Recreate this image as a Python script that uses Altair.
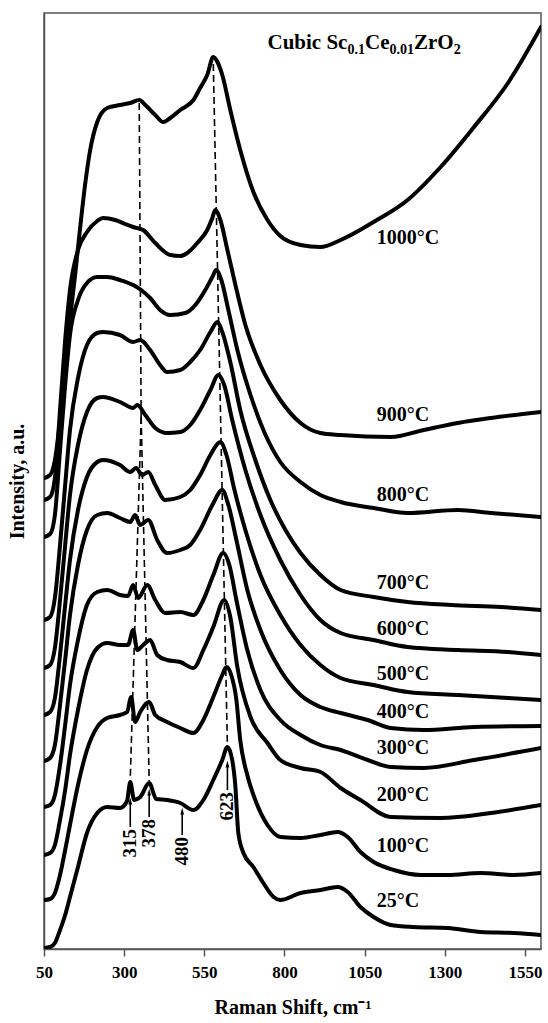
import altair as alt
import pandas as pd

# ---------------- data ----------------
temps = ["25", "100", "200", "300", "400", "500", "600", "700", "800", "900", "1000"]

shift_25 = [50, 69, 84, 100, 116, 131, 156, 184, 216, 247, 287, 309, 319, 331, 350, 378, 400, 434, 475, 516, 547, 578, 606, 622, 637, 647, 656, 672, 703, 734, 766, 787, 850, 912, 966, 997, 1037, 1078, 1131, 1203, 1309, 1412, 1516, 1600]
int_25 = [1, 2, 6, 19, 34, 52, 82, 116, 136, 142, 141, 148, 167, 149, 152, 166, 150, 149, 146, 139, 149, 169, 189, 202, 189, 162, 116, 96, 82, 66, 52, 49, 56, 59, 62, 57, 42, 32, 24, 22, 21, 17, 16, 14]

shift_100 = [50, 69, 84, 100, 116, 131, 156, 184, 216, 247, 287, 309, 322, 334, 350, 378, 397, 434, 475, 516, 547, 578, 606, 619, 634, 650, 662, 684, 709, 747, 787, 850, 912, 966, 997, 1037, 1078, 1141, 1225, 1309, 1412, 1516, 1600]
int_100 = [49, 50, 56, 74, 99, 124, 164, 199, 222, 231, 234, 237, 252, 227, 237, 247, 234, 227, 221, 216, 229, 252, 274, 282, 274, 249, 209, 174, 149, 124, 112, 111, 114, 117, 112, 97, 87, 79, 74, 74, 76, 74, 76]

shift_200 = [50, 69, 84, 100, 116, 131, 156, 184, 216, 247, 287, 312, 328, 341, 359, 381, 403, 434, 475, 516, 547, 578, 612, 631, 653, 694, 747, 787, 850, 912, 975, 1037, 1131, 1287, 1444, 1600]
int_200 = [94, 96, 104, 129, 159, 194, 239, 279, 301, 306, 304, 304, 319, 299, 304, 309, 294, 289, 287, 281, 299, 322, 349, 332, 282, 232, 206, 189, 181, 177, 161, 149, 132, 131, 136, 144]

shift_300 = [50, 69, 84, 100, 116, 131, 156, 184, 216, 247, 287, 312, 328, 344, 372, 397, 428, 475, 516, 547, 578, 609, 628, 650, 684, 725, 787, 850, 912, 975, 1059, 1131, 1234, 1391, 1600]
int_300 = [142, 144, 154, 184, 224, 264, 309, 344, 357, 359, 354, 353, 364, 351, 364, 349, 336, 337, 334, 349, 374, 396, 384, 349, 299, 259, 229, 214, 204, 199, 189, 182, 181, 189, 201]

shift_400 = [50, 69, 84, 100, 116, 131, 156, 184, 216, 247, 287, 319, 334, 350, 375, 403, 434, 475, 506, 537, 575, 606, 625, 650, 684, 725, 787, 850, 912, 975, 1059, 1131, 1234, 1391, 1600]
int_400 = [188, 191, 204, 244, 289, 334, 384, 419, 434, 436, 431, 427, 434, 424, 429, 409, 396, 399, 404, 419, 444, 459, 444, 409, 359, 319, 279, 254, 242, 236, 229, 221, 219, 222, 223]

shift_500 = [50, 69, 84, 100, 116, 131, 156, 184, 216, 234, 287, 319, 337, 356, 375, 397, 428, 475, 506, 537, 569, 600, 619, 644, 678, 725, 787, 850, 912, 975, 1078, 1184, 1341, 1497, 1600]
int_500 = [234, 237, 251, 294, 344, 389, 439, 472, 487, 489, 484, 477, 481, 474, 477, 464, 449, 452, 459, 474, 494, 507, 494, 459, 419, 374, 334, 304, 284, 271, 264, 257, 254, 251, 249]

shift_600 = [50, 69, 84, 100, 116, 131, 156, 184, 216, 234, 287, 328, 341, 366, 397, 434, 475, 506, 537, 569, 594, 612, 637, 678, 725, 787, 850, 912, 975, 1078, 1184, 1341, 1497, 1600]
int_600 = [281, 284, 301, 349, 404, 454, 504, 537, 551, 552, 547, 541, 544, 534, 521, 516, 517, 524, 539, 559, 574, 564, 529, 479, 434, 389, 354, 329, 316, 309, 302, 299, 297, 294]

shift_700 = [50, 69, 84, 100, 116, 131, 156, 184, 216, 234, 287, 328, 350, 381, 412, 434, 475, 506, 537, 569, 591, 606, 631, 662, 709, 756, 803, 850, 912, 975, 1078, 1184, 1319, 1475, 1600]
int_700 = [329, 332, 351, 404, 464, 519, 571, 604, 616, 617, 614, 607, 609, 599, 584, 577, 579, 587, 599, 617, 627, 617, 587, 539, 489, 449, 419, 396, 374, 359, 352, 347, 344, 342, 339]

shift_800 = [50, 69, 84, 100, 116, 131, 156, 184, 216, 247, 287, 328, 353, 381, 412, 444, 491, 522, 553, 575, 587, 603, 625, 653, 694, 741, 787, 850, 912, 975, 1078, 1184, 1341, 1444, 1600]
int_800 = [412, 415, 434, 499, 564, 614, 649, 666, 672, 672, 669, 664, 659, 651, 639, 634, 636, 644, 659, 672, 679, 669, 639, 599, 554, 514, 487, 467, 454, 447, 441, 436, 439, 436, 432]

shift_900 = [50, 69, 84, 100, 116, 131, 156, 184, 216, 234, 272, 303, 328, 359, 397, 444, 475, 497, 528, 559, 575, 584, 600, 622, 647, 678, 725, 787, 850, 912, 975, 1131, 1234, 1341, 1444, 1600]
int_900 = [449, 452, 471, 539, 609, 659, 699, 717, 728, 731, 729, 725, 722, 719, 706, 694, 693, 696, 706, 719, 731, 739, 729, 699, 664, 624, 584, 549, 526, 516, 514, 512, 519, 526, 531, 537]

shift_1000 = [50, 69, 84, 100, 116, 131, 147, 162, 178, 194, 216, 247, 287, 319, 347, 366, 397, 422, 444, 475, 516, 537, 559, 578, 591, 606, 631, 662, 703, 747, 787, 850, 912, 975, 1078, 1184, 1287, 1391, 1497, 1600]
int_1000 = [471, 474, 489, 529, 579, 629, 674, 719, 764, 799, 827, 841, 844, 846, 849, 844, 834, 827, 831, 839, 849, 861, 874, 892, 887, 874, 839, 799, 757, 729, 713, 704, 702, 709, 727, 749, 782, 822, 866, 922]

# temperature labels (position of label, Raman shift / intensity units)
label_text = ["25°C", "100°C", "200°C", "300°C", "400°C", "500°C", "600°C", "700°C", "800°C", "900°C", "1000°C"]
label_x = [1088] * 11
label_y = [48, 103, 154, 201, 237, 275, 320, 366, 454, 534, 711]

# dashed guide lines (start / end)
dash_x = [578, 347, 353, 353]
dash_y = [885, 846, 532, 532]
dash_x2 = [622, 353, 319, 378]
dash_y2 = [202, 532, 170, 168]

# peak annotations (arrows)
peak_text = ["315", "378", "480", "623"]
peak_x = [319, 378, 481, 622]
peak_tip = [147, 156, 137, 184]
peak_tail = [122, 132, 114, 159]

x_ticks = [50, 300, 550, 800, 1050, 1300, 1550]

# ---------------- build tables ----------------
series = {
    "25": (shift_25, int_25), "100": (shift_100, int_100), "200": (shift_200, int_200),
    "300": (shift_300, int_300), "400": (shift_400, int_400), "500": (shift_500, int_500),
    "600": (shift_600, int_600), "700": (shift_700, int_700), "800": (shift_800, int_800),
    "900": (shift_900, int_900), "1000": (shift_1000, int_1000),
}
rows = []
for t in temps:
    xs, ys = series[t]
    for a, b in zip(xs, ys):
        rows.append({"temp": t, "shift": a, "intensity": b})
df = pd.DataFrame(rows)

labels_df = pd.DataFrame({"text": label_text, "shift": label_x, "intensity": label_y})
dash_df = pd.DataFrame({"shift": dash_x, "intensity": dash_y, "x2": dash_x2, "y2": dash_y2})
peaks_df = pd.DataFrame({"text": peak_text, "shift": peak_x, "tip": peak_tip, "intensity": peak_tail})

FONT = "Liberation Serif"
xs_ = alt.Scale(domain=[50, 1600], nice=False, zero=False)
ys_ = alt.Scale(domain=[0, 936], nice=False, zero=False)

x_axis = alt.Axis(
    values=x_ticks, format="d", title="Raman Shift, cm⁻¹", grid=False, tickSize=7, tickWidth=1.5,
    tickColor="#555", domainColor="#555", domainWidth=1.5, labelFont=FONT, labelFontSize=17,
    labelFontWeight="bold", labelColor="black", labelPadding=8, labelFlush=False,
    titleFont=FONT, titleFontSize=20, titleFontWeight="bold", titleColor="black", titlePadding=17)
y_axis = alt.Axis(
    labels=False, ticks=False, grid=False, title="Intensity, a.u.", domainColor="#555",
    domainWidth=1.5, titleFont=FONT, titleFontSize=20, titleFontWeight="bold",
    titleColor="black", titlePadding=17)

X = alt.X("shift:Q", scale=xs_, axis=x_axis)
Y = alt.Y("intensity:Q", scale=ys_, axis=y_axis)

lines = alt.Chart(df).mark_line(
    color="black", strokeWidth=4, interpolate="monotone", strokeJoin="round", strokeCap="round", clip=True
).encode(x=X, y=Y, detail="temp:N")

dashes = alt.Chart(dash_df).mark_rule(color="black", strokeWidth=1.6, strokeDash=[7, 4]).encode(
    x=X, y=Y, x2="x2:Q", y2="y2:Q"
)

arrow_lines = alt.Chart(peaks_df).mark_rule(color="black", strokeWidth=1.6).encode(x=X, y=Y, y2="tip:Q")
arrow_heads = alt.Chart(peaks_df).mark_point(
    shape="M0,-1L-0.45,0.6L0.45,0.6Z", filled=True, color="black", opacity=1, size=70
).encode(x=X, y=alt.Y("tip:Q", scale=ys_, axis=y_axis))
arrow_text = alt.Chart(peaks_df).mark_text(
    angle=270, align="right", baseline="middle", font=FONT, fontSize=19, fontWeight="bold", color="black", dx=-2
).encode(x=X, y=Y, text="text:N")

temp_text = alt.Chart(labels_df).mark_text(
    align="left", baseline="middle", font=FONT, fontSize=20, fontWeight="bold", color="black"
).encode(x=X, y=Y, text="text:N")

# title "Cubic Sc0.1Ce0.01ZrO2" with subscripts
title_parts = [("Cubic Sc", 0, 21, 0), ("0.1", 80, 14, 5), ("Ce", 97.5, 21, 0),
               ("0.01", 122, 14, 5), ("ZrO", 146.5, 21, 0), ("2", 186.2, 14, 5)]
title_df = pd.DataFrame({"shift": [747], "intensity": [900]})
title_layers = []
for txt, dxp, fs, dyp in title_parts:
    title_layers.append(
        alt.Chart(title_df).mark_text(
            text=txt, align="left", baseline="alphabetic", font=FONT, fontSize=fs,
            fontWeight="bold", color="black", dx=dxp, dy=dyp
        ).encode(x=X, y=Y)
    )

chart = alt.layer(lines, dashes, arrow_lines, arrow_heads, arrow_text, temp_text, *title_layers).properties(
    width=497, height=936,
    padding={"left": 44, "top": 13, "right": 7, "bottom": 74},
    autosize=alt.AutoSizeParams(type="none"),
    background="white",
).configure_view(stroke="#555", strokeWidth=1.5)

chart.save("out.html", embed_options={"renderer": "svg", "actions": False})
